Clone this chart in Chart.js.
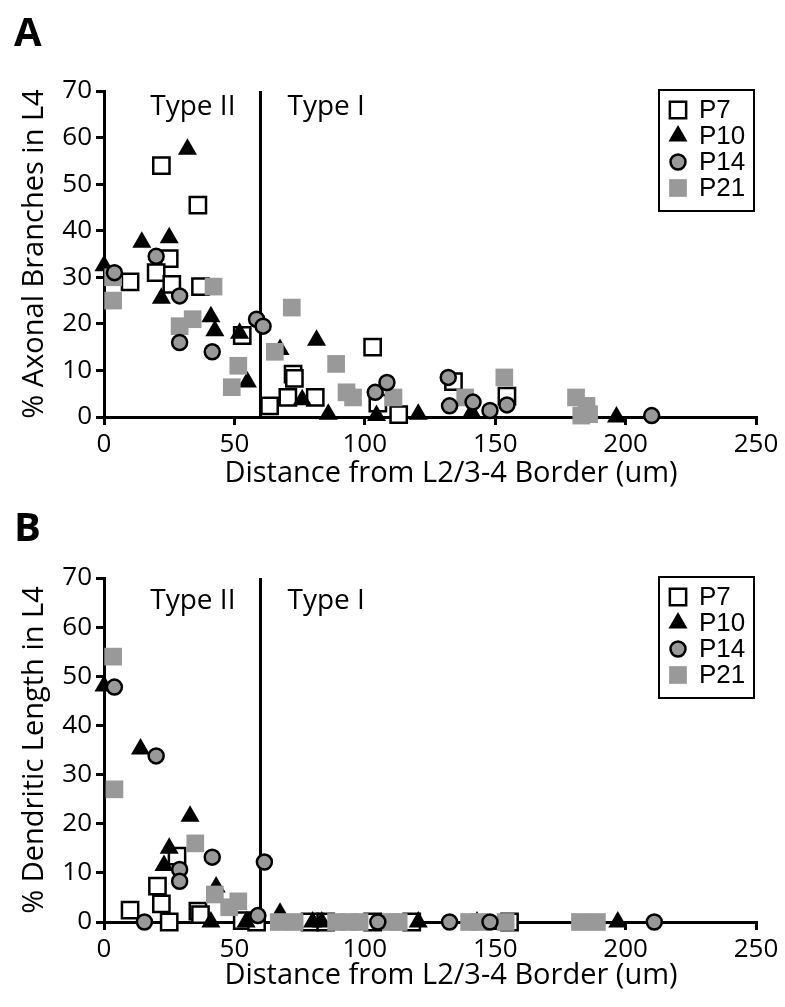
<!DOCTYPE html>
<html>
<head>
<meta charset="utf-8">
<script src="https://cdn.jsdelivr.net/npm/chart.js@4.4.1/dist/chart.umd.min.js"></script>
<style>
  body { margin: 0; background: #fff; width: 785px; height: 1007px; position: relative; overflow: hidden; }
  canvas { position: absolute; left: 0; }
  .letter { position: absolute; left: 14px; font: bold 40px 'Open Sans', sans-serif; line-height: 1; }
</style>
</head>
<body>
<canvas id="chartA" width="785" height="500" style="top:0"></canvas>
<canvas id="chartB" width="785" height="507" style="top:500px"></canvas>
<div class="letter" style="top:11px">A</div>
<div class="letter" style="top:506px">B</div>
<script>
const xTicks = [0, 50, 100, 150, 200, 250];
const yTicks = [0, 10, 20, 30, 40, 50, 60, 70];
const ageGroups = ['P7', 'P10', 'P14', 'P21'];
const typeBorder = 60;

// Panel A: % axonal branches in L4, points are [distance um, percent]
const axonP7 = [[22,54],[36,45.5],[25,34],[10,29],[20,31],[26,28.5],[37,28],[53,17.5],[72.5,9.2],[73,8.3],
  [70.5,4.2],[81,4.2],[63.5,2.4],[103,15],[105,3],[113,0.5],[134,7.6],[154.5,4.5]];
const axonP10 = [[32,57.5],[14.5,37.5],[25,38.5],[0,32.5],[22,25.5],[41,21.5],[42.5,18.5],[52,18],[55,7.5],
  [67.5,14.5],[81.5,16.5],[76,3.7],[86,0.6],[104.5,0.3],[120.5,0.6],[141,1],[196.5,0]];
const axonP14 = [[20,34.5],[4,31],[29,26],[29,16],[41.5,14],[58.5,21],[61,19.5],[104,5.3],[108.5,7.4],
  [132,8.5],[132.5,2.4],[141.5,3.2],[148,1.4],[154.5,2.6],[210,0.3]];
const axonP21 = [[3.5,30],[3.5,25],[42,28],[34,21],[29,19.5],[51.5,11],[49,6.4],[72,23.5],[65.5,14],[89,11.4],
  [93,5.3],[95.5,4.2],[111,4.2],[138.5,4.2],[153.5,8.5],[181,4.2],[185,2.4],[186,0.6],[183,0.3]];

// Panel B: % dendritic length in L4
const dendP7 = [[28,13.4],[20.5,7.3],[22,3.7],[10,2.4],[25,0],[36,2.2],[37,1.5],[53,0.3],[58.5,0],[79,0],
  [85,0],[103,0],[118,0],[155.5,0]];
const dendP10 = [[0,48],[14,35.2],[33,21.5],[25,15],[23,11.5],[43,7.1],[41,0],[54.5,0],[67.5,1.8],[80,0],
  [83.5,0],[120.5,0],[143,0],[197,0]];
const dendP14 = [[4,47.8],[20,33.8],[41.5,13.2],[29,10.7],[29,8.3],[15.5,0],[59,1.3],[61.5,12.2],[105,0],
  [132.5,0],[148,0],[211,0]];
const dendP21 = [[3.5,54],[4,27],[35,16],[42.5,5.6],[48,3],[51.5,4.2],[67,0],[73,0],[89,0],[94,0],[98,0],
  [110,0],[113,0],[140,0],[144,0],[154,0],[182.5,0],[189,0]];

const markerStyles = {
  P7:  { pointStyle: 'rect', pointRadius: 11.5, backgroundColor: '#fff', borderColor: '#000', borderWidth: 2.5, order: 3 },
  P10: { pointStyle: 'triangle', pointRadius: 11, backgroundColor: '#000', borderColor: '#000', borderWidth: 0, order: 2 },
  P14: { pointStyle: 'circle', pointRadius: 7.5, backgroundColor: '#999', borderColor: '#000', borderWidth: 2.5, order: 0 },
  P21: { pointStyle: 'rect', pointRadius: 12.5, backgroundColor: '#999', borderColor: '#999', borderWidth: 0, order: 1 }
};

const textFont = "'Open Sans', sans-serif";

function drawMarker(ctx, ds, x, y) {
  const r = ds.pointRadius;
  ctx.beginPath();
  if (ds.pointStyle === 'rect') {
    const s = r * Math.SQRT1_2;
    ctx.rect(x - s, y - s, 2 * s, 2 * s);
  } else if (ds.pointStyle === 'triangle') {
    let a = 0;
    ctx.moveTo(x + Math.sin(a) * r, y - Math.cos(a) * r);
    a += Math.PI * 2 / 3;
    ctx.lineTo(x + Math.sin(a) * r, y - Math.cos(a) * r);
    a += Math.PI * 2 / 3;
    ctx.lineTo(x + Math.sin(a) * r, y - Math.cos(a) * r);
    ctx.closePath();
  } else {
    ctx.arc(x, y, r, 0, Math.PI * 2);
  }
  ctx.fillStyle = ds.backgroundColor;
  ctx.fill();
  if (ds.borderWidth > 0) {
    ctx.lineWidth = ds.borderWidth;
    ctx.strokeStyle = ds.borderColor;
    ctx.stroke();
  }
}

// vertical Type II / Type I divider with its labels
const typeZones = {
  id: 'typeZones',
  beforeDatasetsDraw(chart, args, opts) {
    const { ctx, chartArea } = chart;
    const x = chart.scales.x.getPixelForValue(typeBorder);
    ctx.save();
    ctx.strokeStyle = '#000';
    ctx.lineWidth = 3;
    ctx.beginPath();
    ctx.moveTo(x, chartArea.top);
    ctx.lineTo(x, chartArea.bottom);
    ctx.stroke();
    ctx.fillStyle = '#000';
    ctx.font = '28px ' + textFont;
    ctx.textBaseline = 'alphabetic';
    ctx.textAlign = 'right';
    ctx.fillText('Type II', x - 25, chartArea.top + opts.baseline);
    ctx.textAlign = 'left';
    ctx.fillText('Type I', x + 27, chartArea.top + opts.baseline);
    ctx.restore();
  }
};

// boxed legend in the top right corner
const boxLegend = {
  id: 'boxLegend',
  afterDraw(chart) {
    const { ctx, chartArea } = chart;
    const w = 95, h = 121;
    const left = chartArea.right - 2 - w, top = chartArea.top - 1;
    ctx.save();
    ctx.fillStyle = '#fff';
    ctx.fillRect(left, top, w, h);
    ctx.strokeStyle = '#000';
    ctx.lineWidth = 2;
    ctx.strokeRect(left, top, w, h);
    chart.data.datasets.forEach((ds, i) => {
      const cy = top + 20 + i * 26;
      drawMarker(ctx, ds, left + 19, cy);
      ctx.fillStyle = '#000';
      ctx.font = "26px 'Liberation Sans', Arial, sans-serif";
      ctx.textBaseline = 'middle';
      ctx.textAlign = 'left';
      ctx.fillText(ds.label, left + 40, cy + 1);
    });
    ctx.restore();
  }
};

// x axis title, set off to the right like the original figure
const xTitle = {
  id: 'xTitle',
  afterDraw(chart, args, opts) {
    const { ctx, chartArea } = chart;
    ctx.save();
    ctx.fillStyle = '#000';
    ctx.font = '29px ' + textFont;
    ctx.textAlign = 'center';
    ctx.textBaseline = 'middle';
    ctx.fillText(opts.text, 451, chartArea.bottom + opts.offset);
    ctx.restore();
  }
};

function buildChart(id, yLabel, sets, top, xHeight, titleOffset, typeBaseline) {
  const axisGrid = { drawOnChartArea: false, drawTicks: true, tickLength: 8, color: '#000', lineWidth: 3 };
  const tickStyle = { color: '#000', font: { family: textFont, size: 26 }, padding: 4 };
  return new Chart(document.getElementById(id), {
    type: 'scatter',
    data: {
      datasets: ageGroups.map((g, i) => Object.assign({
        label: g,
        data: sets[i].map(p => ({ x: p[0], y: p[1] })),
        clip: false
      }, markerStyles[g]))
    },
    options: {
      responsive: false,
      animation: false,
      events: [],
      layout: { padding: { top: top, right: 29, left: 0, bottom: 0 } },
      plugins: {
        legend: { display: false },
        tooltip: { enabled: false },
        typeZones: { baseline: typeBaseline },
        xTitle: { text: 'Distance from L2/3-4 Border (um)', offset: titleOffset }
      },
      scales: {
        x: {
          type: 'linear', min: 0, max: 250,
          afterBuildTicks: s => { s.ticks = xTicks.map(v => ({ value: v })); },
          afterFit: s => { s.height = xHeight; },
          ticks: tickStyle,
          grid: axisGrid,
          border: { color: '#000', width: 3 }
        },
        y: {
          type: 'linear', min: 0, max: 70,
          afterBuildTicks: s => { s.ticks = yTicks.map(v => ({ value: v })); },
          afterFit: s => { s.width = 104; },
          ticks: tickStyle,
          grid: axisGrid,
          border: { color: '#000', width: 3 },
          title: { display: true, text: yLabel, color: '#000', font: { family: textFont, size: 29 }, padding: { top: 17, bottom: 0 } }
        }
      }
    },
    plugins: [typeZones, boxLegend, xTitle]
  });
}

buildChart('chartA', '% Axonal Branches in L4', [axonP7, axonP10, axonP14, axonP21], 91, 83, 57, 24);
buildChart('chartB', '% Dendritic Length in L4', [dendP7, dendP10, dendP14, dendP21], 78, 85, 54, 31);
</script>
</body>
</html>
